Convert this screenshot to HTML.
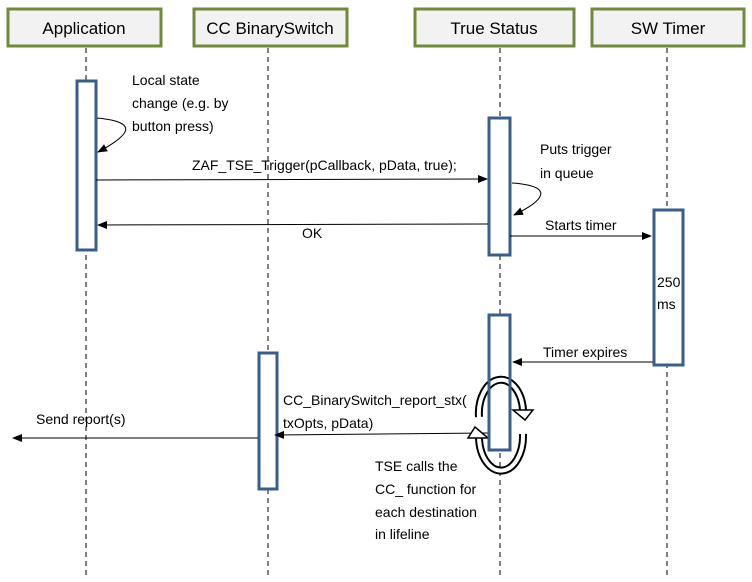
<!DOCTYPE html>
<html><head><style>
body{margin:0;background:#fff;}
svg{display:block;font-family:"Liberation Sans",sans-serif;}
</style></head><body>
<svg width="752" height="582" viewBox="0 0 752 582">
<defs>
<marker id="a" markerWidth="10" markerHeight="8" refX="9" refY="4" orient="auto" markerUnits="userSpaceOnUse">
<path d="M0,0 L10,4 L0,8z" fill="#000"/></marker>
</defs>
<g fill="#f2f2f2" stroke="#6f8a3a" stroke-width="3">
<rect x="8" y="9" width="153" height="37"/>
<rect x="194" y="9" width="153" height="37"/>
<rect x="415" y="9" width="159" height="37"/>
<rect x="592" y="9" width="152" height="37"/>
</g>
<g font-size="17" text-anchor="middle" fill="#000">
<text x="84" y="34">Application</text>
<text x="270" y="34">CC BinarySwitch</text>
<text x="494" y="34">True Status</text>
<text x="668" y="34">SW Timer</text>
</g>
<g stroke="#000" stroke-dasharray="5,4" stroke-width="1">
<line x1="86" y1="48" x2="86" y2="578"/>
<line x1="268" y1="48" x2="268" y2="578"/>
<line x1="500" y1="48" x2="500" y2="578"/>
<line x1="667" y1="48" x2="667" y2="578"/>
</g>
<g fill="#fff" stroke="#3a5e8c" stroke-width="3">
<rect x="77" y="81" width="19" height="169"/>
<rect x="489" y="118" width="21" height="137"/>
<rect x="654" y="210" width="29" height="155"/>
<rect x="489" y="315" width="21" height="135"/>
<rect x="259" y="353" width="18" height="136"/>
</g>
<g stroke="#000" stroke-width="1" fill="none" marker-end="url(#a)">
<path d="M97,118 C140,122 130,135 98,152"/>
<path d="M512,183 C555,186 545,200 514,215"/>
<line x1="96" y1="180" x2="487" y2="179"/>
<line x1="488" y1="224" x2="98" y2="225"/>
<line x1="510" y1="236" x2="651" y2="236"/>
<line x1="653" y1="362" x2="513" y2="362"/>
<line x1="488" y1="433" x2="275" y2="435"/>
<line x1="258" y1="438" x2="13" y2="438"/>
</g>
<!-- circular arrows -->
<g fill="none">
<path d="M479,417 A21,32 0 0 1 523,410" stroke="#000" stroke-width="8"/>
<path d="M479,417 A21,32 0 0 1 523,410" stroke="#fff" stroke-width="4"/>
<path d="M523,434 A21,33 0 0 1 479,438" stroke="#000" stroke-width="8"/>
<path d="M523,434 A21,33 0 0 1 479,438" stroke="#fff" stroke-width="4"/>
</g>
<polygon points="513,410 533,410 525,420" fill="#fff" stroke="#000" stroke-width="1.5"/>
<polygon points="468,438 488,438 475,427" fill="#fff" stroke="#000" stroke-width="1.5"/>
<rect x="489" y="315" width="21" height="135" fill="none" stroke="#3a5e8c" stroke-width="3"/>
<g font-size="14" fill="#000">
<text x="132" y="85">Local state</text>
<text x="132" y="108">change (e.g. by</text>
<text x="132" y="131">button press)</text>
<text x="192" y="170">ZAF_TSE_Trigger(pCallback, pData, true);</text>
<text x="540" y="154">Puts trigger</text>
<text x="540" y="178">in queue</text>
<text x="302" y="238">OK</text>
<text x="545" y="230">Starts timer</text>
<text x="657" y="287">250</text>
<text x="657" y="309">ms</text>
<text x="543" y="357">Timer expires</text>
<text x="283" y="405">CC_BinarySwitch_report_stx(</text>
<text x="283" y="428">txOpts, pData)</text>
<text x="36" y="424">Send report(s)</text>
<text x="375" y="471">TSE calls the</text>
<text x="375" y="494">CC_ function for</text>
<text x="375" y="517">each destination</text>
<text x="375" y="539">in lifeline</text>
</g>
</svg>
</body></html>
